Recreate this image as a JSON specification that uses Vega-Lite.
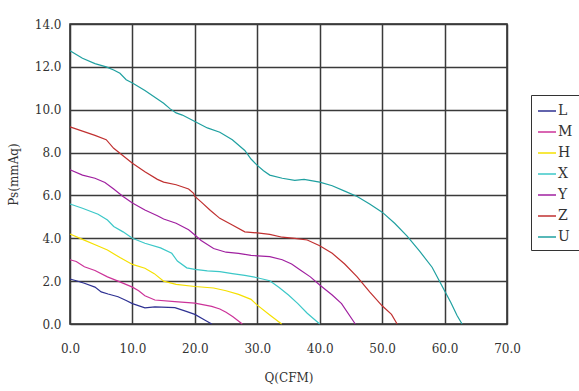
{
  "$schema": "https://vega.github.io/schema/vega-lite/v6.json",
  "width": 437,
  "height": 300,
  "autosize": {"type": "none"},
  "padding": {"left": 70, "top": 24, "right": 72, "bottom": 67},
  "background": "white",
  "config": {
    "view": {"stroke": "#222", "strokeWidth": 1.5},
    "font": "DejaVu Serif"
  },
  "data": {"values": [
    {"s":"L","q":0,"p":2.1},{"s":"L","q":1,"p":2.02},{"s":"L","q":2.3,"p":1.9},{"s":"L","q":4,"p":1.72},{"s":"L","q":5,"p":1.5},{"s":"L","q":6.1,"p":1.4},{"s":"L","q":7.7,"p":1.27},{"s":"L","q":9,"p":1.1},{"s":"L","q":10,"p":0.95},{"s":"L","q":12,"p":0.75},{"s":"L","q":13.6,"p":0.8},{"s":"L","q":16.8,"p":0.76},{"s":"L","q":18.5,"p":0.6},{"s":"L","q":20,"p":0.45},{"s":"L","q":21.5,"p":0.2},{"s":"L","q":22.7,"p":0},
    {"s":"M","q":0,"p":3.0},{"s":"M","q":1,"p":2.92},{"s":"M","q":2.3,"p":2.67},{"s":"M","q":4,"p":2.5},{"s":"M","q":6,"p":2.2},{"s":"M","q":7.7,"p":2.0},{"s":"M","q":10,"p":1.72},{"s":"M","q":11,"p":1.55},{"s":"M","q":12,"p":1.32},{"s":"M","q":13.6,"p":1.12},{"s":"M","q":16.8,"p":1.04},{"s":"M","q":20,"p":0.97},{"s":"M","q":22.7,"p":0.82},{"s":"M","q":24,"p":0.7},{"s":"M","q":25,"p":0.55},{"s":"M","q":26.1,"p":0.34},{"s":"M","q":27.6,"p":0},
    {"s":"H","q":0,"p":4.2},{"s":"H","q":2,"p":3.95},{"s":"H","q":4.5,"p":3.64},{"s":"H","q":6,"p":3.45},{"s":"H","q":8,"p":3.1},{"s":"H","q":10,"p":2.78},{"s":"H","q":12,"p":2.6},{"s":"H","q":13.5,"p":2.35},{"s":"H","q":15,"p":2.0},{"s":"H","q":17,"p":1.85},{"s":"H","q":20,"p":1.75},{"s":"H","q":23,"p":1.68},{"s":"H","q":25,"p":1.55},{"s":"H","q":27,"p":1.38},{"s":"H","q":29,"p":1.15},{"s":"H","q":30,"p":0.88},{"s":"H","q":32,"p":0.42},{"s":"H","q":33.9,"p":0},
    {"s":"X","q":0,"p":5.6},{"s":"X","q":2,"p":5.4},{"s":"X","q":4.5,"p":5.12},{"s":"X","q":6,"p":4.85},{"s":"X","q":7,"p":4.55},{"s":"X","q":8.5,"p":4.3},{"s":"X","q":10,"p":4.0},{"s":"X","q":12,"p":3.77},{"s":"X","q":14.5,"p":3.55},{"s":"X","q":16.3,"p":3.3},{"s":"X","q":17.2,"p":2.94},{"s":"X","q":18.7,"p":2.62},{"s":"X","q":20,"p":2.55},{"s":"X","q":22,"p":2.48},{"s":"X","q":24,"p":2.44},{"s":"X","q":26,"p":2.35},{"s":"X","q":28,"p":2.27},{"s":"X","q":30,"p":2.16},{"s":"X","q":32,"p":2.02},{"s":"X","q":33.5,"p":1.7},{"s":"X","q":35,"p":1.35},{"s":"X","q":36.5,"p":0.95},{"s":"X","q":38,"p":0.5},{"s":"X","q":40,"p":0},
    {"s":"Y","q":0,"p":7.2},{"s":"Y","q":2,"p":6.95},{"s":"Y","q":4,"p":6.8},{"s":"Y","q":5.6,"p":6.6},{"s":"Y","q":7,"p":6.3},{"s":"Y","q":8.5,"p":5.95},{"s":"Y","q":10,"p":5.65},{"s":"Y","q":12,"p":5.32},{"s":"Y","q":14,"p":5.05},{"s":"Y","q":15,"p":4.9},{"s":"Y","q":17,"p":4.7},{"s":"Y","q":19,"p":4.4},{"s":"Y","q":20,"p":4.15},{"s":"Y","q":21,"p":3.9},{"s":"Y","q":23,"p":3.52},{"s":"Y","q":25,"p":3.35},{"s":"Y","q":27,"p":3.3},{"s":"Y","q":29,"p":3.2},{"s":"Y","q":32,"p":3.14},{"s":"Y","q":34,"p":3.0},{"s":"Y","q":35.5,"p":2.8},{"s":"Y","q":37,"p":2.5},{"s":"Y","q":38.5,"p":2.2},{"s":"Y","q":40,"p":1.82},{"s":"Y","q":42,"p":1.35},{"s":"Y","q":43.5,"p":0.95},{"s":"Y","q":45.7,"p":0},
    {"s":"Z","q":0,"p":9.2},{"s":"Z","q":2,"p":9.0},{"s":"Z","q":4,"p":8.8},{"s":"Z","q":5.8,"p":8.6},{"s":"Z","q":7,"p":8.2},{"s":"Z","q":8.5,"p":7.85},{"s":"Z","q":10,"p":7.5},{"s":"Z","q":12,"p":7.1},{"s":"Z","q":14,"p":6.75},{"s":"Z","q":15,"p":6.62},{"s":"Z","q":17,"p":6.5},{"s":"Z","q":19,"p":6.3},{"s":"Z","q":19.8,"p":6.1},{"s":"Z","q":20,"p":5.95},{"s":"Z","q":21,"p":5.7},{"s":"Z","q":22.5,"p":5.3},{"s":"Z","q":24,"p":4.93},{"s":"Z","q":26,"p":4.62},{"s":"Z","q":28,"p":4.3},{"s":"Z","q":30,"p":4.25},{"s":"Z","q":32,"p":4.18},{"s":"Z","q":34,"p":4.05},{"s":"Z","q":36,"p":4.0},{"s":"Z","q":38,"p":3.92},{"s":"Z","q":40,"p":3.65},{"s":"Z","q":42,"p":3.3},{"s":"Z","q":44,"p":2.8},{"s":"Z","q":46,"p":2.2},{"s":"Z","q":48,"p":1.5},{"s":"Z","q":50,"p":0.85},{"s":"Z","q":51.5,"p":0.45},{"s":"Z","q":52.4,"p":0},
    {"s":"U","q":0,"p":12.75},{"s":"U","q":2,"p":12.4},{"s":"U","q":4,"p":12.15},{"s":"U","q":5.8,"p":12.0},{"s":"U","q":7,"p":11.85},{"s":"U","q":8,"p":11.7},{"s":"U","q":9,"p":11.4},{"s":"U","q":10,"p":11.25},{"s":"U","q":12,"p":10.9},{"s":"U","q":14,"p":10.5},{"s":"U","q":15,"p":10.3},{"s":"U","q":16,"p":10.05},{"s":"U","q":17,"p":9.85},{"s":"U","q":18,"p":9.75},{"s":"U","q":20,"p":9.45},{"s":"U","q":22,"p":9.15},{"s":"U","q":24,"p":8.95},{"s":"U","q":26,"p":8.6},{"s":"U","q":28,"p":8.1},{"s":"U","q":29,"p":7.7},{"s":"U","q":30,"p":7.4},{"s":"U","q":31,"p":7.15},{"s":"U","q":32,"p":6.95},{"s":"U","q":34,"p":6.8},{"s":"U","q":36,"p":6.7},{"s":"U","q":37.5,"p":6.75},{"s":"U","q":40,"p":6.62},{"s":"U","q":42,"p":6.45},{"s":"U","q":44,"p":6.2},{"s":"U","q":46,"p":5.95},{"s":"U","q":48,"p":5.6},{"s":"U","q":50,"p":5.22},{"s":"U","q":52,"p":4.7},{"s":"U","q":54,"p":4.1},{"s":"U","q":56,"p":3.4},{"s":"U","q":58,"p":2.65},{"s":"U","q":59,"p":2.1},{"s":"U","q":60,"p":1.55},{"s":"U","q":61,"p":1.0},{"s":"U","q":62,"p":0.4},{"s":"U","q":62.8,"p":0}
  ]},
  "mark": {"type": "line", "strokeWidth": 1.2},
  "encoding": {
    "x": {
      "field": "q", "type": "quantitative",
      "scale": {"domain": [0, 70], "nice": false, "zero": false},
      "axis": {
        "values": [0,10,20,30,40,50,60,70], "format": ".1f",
        "title": "Q(CFM)", "titleFont": "DejaVu Serif", "titleFontWeight": "normal", "titleFontSize": 12, "titleColor": "#333", "titlePadding": 18,
        "labelFont": "DejaVu Serif", "labelFontSize": 12, "labelColor": "#333", "labelPadding": 19, "labelFlush": false,
        "ticks": false, "domain": false,
        "grid": true, "gridColor": "#3a3a3a", "gridWidth": 1.5, "gridOpacity": 1
      }
    },
    "y": {
      "field": "p", "type": "quantitative",
      "scale": {"domain": [0, 14], "nice": false},
      "axis": {
        "values": [0,2,4,6,8,10,12,14], "format": ".1f",
        "title": "Ps(mmAq)", "titleFont": "DejaVu Serif", "titleFontWeight": "normal", "titleFontSize": 12, "titleColor": "#333", "titlePadding": 14,
        "labelFont": "DejaVu Serif", "labelFontSize": 12, "labelColor": "#333", "labelPadding": 9, "labelFlush": false,
        "ticks": false, "domain": false,
        "grid": true, "gridColor": "#3a3a3a", "gridWidth": 1.5, "gridOpacity": 1
      }
    },
    "color": {
      "field": "s", "type": "nominal",
      "scale": {
        "domain": ["L","M","H","X","Y","Z","U"],
        "range": ["#2e3192","#cc3399","#f5e000","#3cc8c8","#a020a0","#c03030","#1fa0a0"]
      },
      "legend": {
        "title": null, "orient": "none", "legendX": 461, "legendY": 71,
        "strokeColor": "#333", "padding": 6,
        "symbolType": "stroke", "symbolSize": 324, "symbolStrokeWidth": 1.5,
        "labelFont": "DejaVu Serif", "labelFontSize": 14, "labelColor": "#333", "labelOffset": 1,
        "rowPadding": 4
      }
    }
  }
}
